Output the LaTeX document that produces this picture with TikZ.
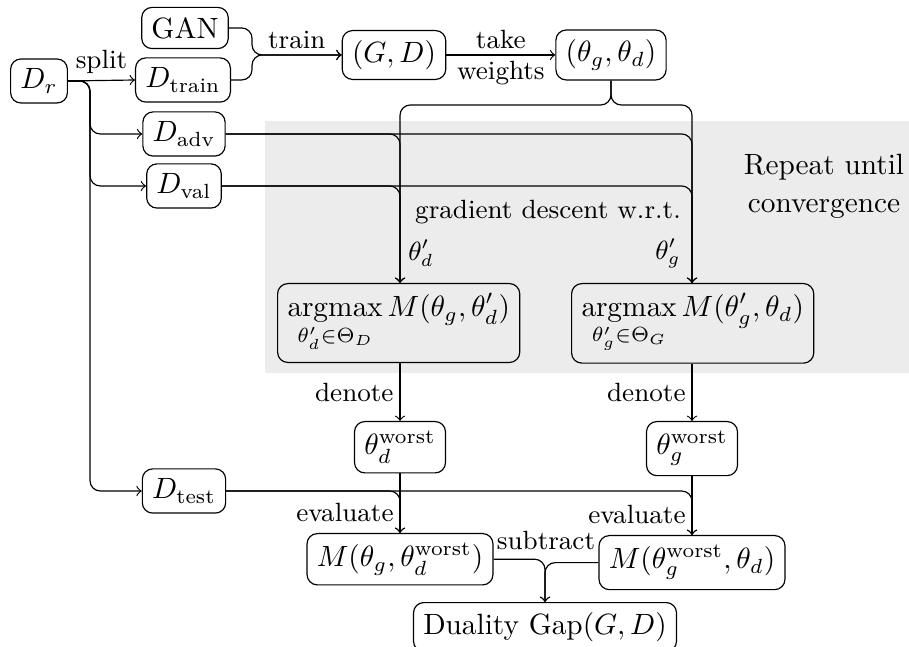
\documentclass[tikz,border=0pt]{standalone}
\usepackage{amsmath}
\usetikzlibrary{calc}
\begin{document}
\begin{tikzpicture}[x=0.341pt,y=-0.341pt,
  box/.style={draw, rounded corners=3.5pt, inner sep=0.333em},
  arr/.style={->, rounded corners=3.5pt},
  lbl/.style={inner sep=2pt, font=\small}]
\useasboundingbox (0,0) rectangle (909,647);
% shaded loop region
\fill[gray!15] (265,121) rectangle (909,373);
\node[align=center] (rep) at (824,186) {Repeat until\\[1pt]convergence};

% data and model nodes
\node[box] (Dr) at (39,81) {$D_r$};
\node[box] (GAN) at (185,28) {GAN};
\node[box] (Dtrain) at (183,80) {$D_{\text{train}}$};
\node[box] (GD) at (394,55) {$(G,D)$};
\node[box] (TH) at (611,55) {$(\theta_g,\theta_d)$};
\node[box] (Dadv) at (184,134) {$D_{\text{adv}}$};
\node[box] (Dval) at (184,186) {$D_{\text{val}}$};
\node[box] (Dtest) at (184,491) {$D_{\text{test}}$};

% optimisation nodes
\node[box, anchor=north west] (argL) at (277,283) {$\displaystyle\operatorname*{argmax}_{\theta'_d\in\Theta_D} M(\theta_g,\theta'_d)$};
\node[box, anchor=north west] (argR) at (571,283) {$\displaystyle\operatorname*{argmax}_{\theta'_g\in\Theta_G} M(\theta'_g,\theta_d)$};
\node[box, anchor=north] (wL) at (400,421) {$\theta_d^{\text{worst}}$};
\node[box, anchor=north] (wR) at (692,421) {$\theta_g^{\text{worst}}$};
\node[box, anchor=north] (ML) at (400,533) {$M(\theta_g,\theta_d^{\text{worst}})$};
\node[box, anchor=north] (MR) at (692,535) {$M(\theta_g^{\text{worst}},\theta_d)$};
\node[box, anchor=north] (DG) at (545,602) {Duality Gap$(G,D)$};

% helper points
\coordinate (sp) at (90,81);
\coordinate (mg) at (252,55);
\coordinate (th) at (611,105);

% splitting the data
\draw[->] (Dr.east) -- (Dtrain.west) node[midway, above, lbl] {split};
\draw[arr] (Dr.east) -- (sp) |- (Dadv.west);
\draw[arr] (Dr.east) -- (sp) |- (Dval.west);
\draw[arr] (Dr.east) -- (sp) |- (Dtest.west);

% training
\draw[arr] (GAN.east) -| (mg) -- (GD.west);
\draw[arr] (Dtrain.east) -| (mg) -- (GD.west);
\node[lbl, above] at ($(mg)!0.5!(GD.west)$) {train};
\draw[->] (GD.east) -- (TH.west)
  node[midway, above, lbl] {take} node[midway, below, lbl] {weights};

% weights into both optimisations
\draw[arr] (TH.south) -- (th) -| (argL.north -| wL);
\draw[arr] (TH.south) -- (th) -| (argR.north -| wR);
\draw[arr] (Dadv.east) -| (argL.north -| wL);
\draw[arr] (Dadv.east) -| (argR.north -| wR);
\draw[arr] (Dval.east) -| (argL.north -| wL);
\draw[arr] (Dval.east) -| (argR.north -| wR);
\node[lbl] (gd) at (548,212) {gradient descent w.r.t.};
\node[lbl] (tdl) at (421,253) {$\theta'_d$};
\node[lbl] (tgl) at (668,253) {$\theta'_g$};

% worst-case parameters
\draw[->] (argL.south -| wL) -- (wL.north) node[midway, left, lbl] {denote};
\draw[->] (argR.south -| wR) -- (wR.north) node[midway, left, lbl] {denote};

% evaluation on the test split
\draw[->] (wL.south) -- (ML.north) node[pos=0.65, left, lbl] {evaluate};
\draw[->] (wR.south) -- (MR.north) node[pos=0.65, left, lbl] {evaluate};
\draw[arr] (Dtest.east) -| (ML.north);
\draw[arr] (Dtest.east) -| (MR.north);

% duality gap
\draw[arr] (ML.east) -| (DG.north);
\draw[arr] (MR.west) -| (DG.north);
\node[lbl] (sub) at (546,540) {subtract};
\end{tikzpicture}
\end{document}
